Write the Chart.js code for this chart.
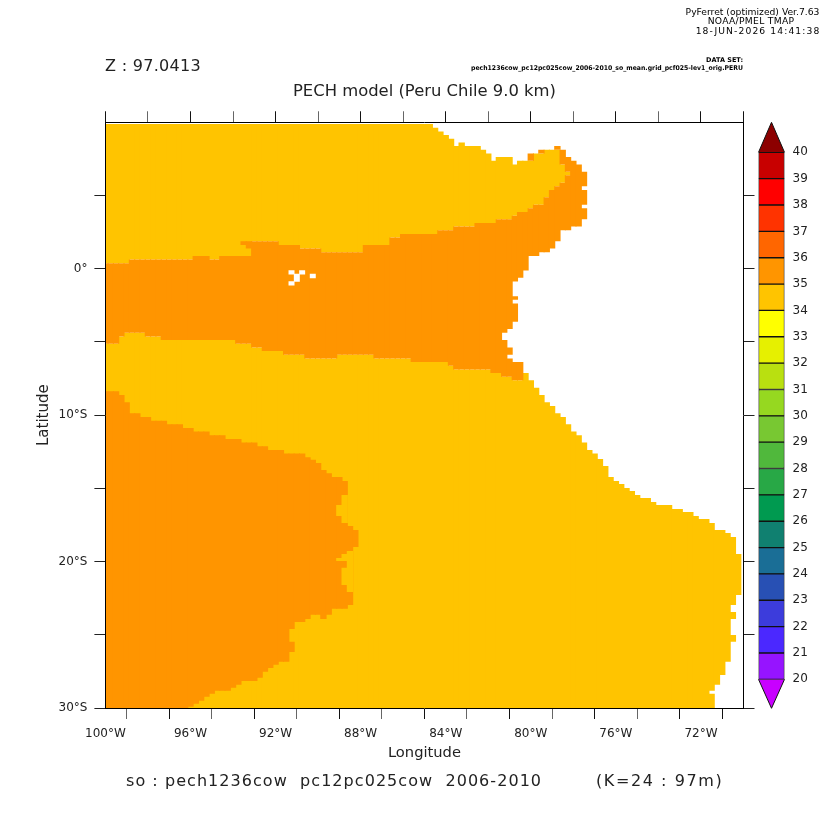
<!DOCTYPE html>
<html>
<head>
<meta charset="utf-8">
<style>
html,body{margin:0;padding:0;background:#fff;width:832px;height:832px;overflow:hidden}
canvas{position:absolute;top:0}
#map{left:0}
#bar{left:745px}
</style>
<script src="https://cdn.jsdelivr.net/npm/chart.js@4/dist/chart.umd.js"></script>
</head>
<body>
<canvas id="map" width="832" height="832"></canvas>
<canvas id="bar" width="87" height="832"></canvas>
<script>
// Grid columns: longitude of every column
const lons = [
-100,-99.75,-99.5,-99.25,-99,-98.75,-98.5,-98.25,
-98,-97.75,-97.5,-97.25,-97,-96.75,-96.5,-96.25,
-96,-95.75,-95.5,-95.25,-95,-94.75,-94.5,-94.25,
-94,-93.75,-93.5,-93.25,-93,-92.75,-92.5,-92.25,
-92,-91.75,-91.5,-91.25,-91,-90.75,-90.5,-90.25,
-90,-89.75,-89.5,-89.25,-89,-88.75,-88.5,-88.25,
-88,-87.75,-87.5,-87.25,-87,-86.75,-86.5,-86.25,
-86,-85.75,-85.5,-85.25,-85,-84.75,-84.5,-84.25,
-84,-83.75,-83.5,-83.25,-83,-82.75,-82.5,-82.25,
-82,-81.75,-81.5,-81.25,-81,-80.75,-80.5,-80.25,
-80,-79.75,-79.5,-79.25,-79,-78.75,-78.5,-78.25,
-78,-77.75,-77.5,-77.25,-77,-76.75,-76.5,-76.25,
-76,-75.75,-75.5,-75.25,-75,-74.75,-74.5,-74.25,
-74,-73.75,-73.5,-73.25,-73,-72.75,-72.5,-72.25,
-72,-71.75,-71.5,-71.25,-71,-70.75,-70.5,-70.25];

// Upper limit of the northern 35-36 region, columns 0..87
const northTop = [
9.875,9.875,9.875,9.875,9.875,9.875,9.875,9.875,9.875,9.875,
9.875,9.875,9.875,9.875,9.875,9.875,9.875,9.875,9.875,9.875,
9.875,9.875,9.875,9.875,9.875,9.875,9.875,9.875,9.875,9.875,
9.875,9.875,9.875,9.875,9.875,9.875,9.875,9.875,9.875,9.875,
9.875,9.875,9.875,9.875,9.875,9.875,9.875,9.875,9.875,9.875,
9.875,9.875,9.875,9.875,9.875,9.875,9.875,9.875,9.875,9.875,
9.875,9.875,
9.625,9.375,9.125,8.875,8.375,8.625,
8.375,8.375,8.375,8.125,7.875,7.375,
7.625,7.625,7.625,7.125,7.375,7.375,7.375,7.875,7.875,
8.125,8.125,8.125,7.125,6.625];

// Upper limit of the equatorial band, columns 0..90
const bandTop = [
.375,.375,.375,.375,.375,
.625,.625,.625,.625,.625,.625,.625,.625,.625,.625,.625,.625,
.875,.875,.875,
.625,.625,
.875,.875,.875,.875,.875,.875,
1.875,1.875,1.875,1.875,1.875,
1.625,1.625,1.625,1.625,
1.375,1.375,1.375,1.375,
1.125,1.125,1.125,1.125,1.125,1.125,1.125,1.125,
1.625,1.625,1.625,1.625,1.625,
2.125,2.125,
2.375,2.375,2.375,2.375,2.375,2.375,2.375,
2.625,2.625,2.625,
2.875,2.875,2.875,2.875,
3.125,3.125,3.125,3.125,
3.375,3.375,3.375,
3.625,
3.875,3.875,
4.125,
4.375,4.375,
4.875,5.375,5.625,5.875,6.375,7.375,7.125,6.625];

// Lower limit of the same band, columns 0..90
const bandBottom = [
-5.125,-5.125,-5.125,
-4.625,
-4.375,-4.375,-4.375,-4.375,
-4.625,-4.625,-4.625,
-4.875,-4.875,-4.875,-4.875,-4.875,-4.875,-4.875,-4.875,-4.875,-4.875,-4.875,-4.875,-4.875,-4.875,
-5.125,-5.125,-5.125,
-5.375,-5.375,
-5.625,-5.625,-5.625,-5.625,
-5.875,-5.875,-5.875,-5.875,
-6.125,-6.125,-6.125,-6.125,-6.125,-6.125,
-5.875,-5.875,-5.875,-5.875,-5.875,-5.875,-5.875,
-6.125,-6.125,-6.125,-6.125,-6.125,-6.125,-6.125,
-6.375,-6.375,-6.375,-6.375,-6.375,-6.375,-6.375,
-6.625,
-6.875,-6.875,-6.875,-6.875,-6.875,-6.875,-6.875,
-7.125,-7.125,
-4.375,-4.125,
-0.875,-0.625,
-0.125,
.875,.875,
1.125,1.125,
1.375,1.875,
2.625,2.625,
2.875,2.875,
5.625];

// Top of the southern ocean where it meets land or the band, columns 75..119
const coastTop = [
-7.375,-7.375,-7.625,-7.625,
-7.125,-7.625,-8.125,-8.625,-9.125,-9.375,-9.875,-10.125,-10.625,-11.125,
-11.375,-11.875,-12.375,-12.625,-13,-13.48,-14.23,-14.5,-14.71,-14.98,
-15.18,-15.46,-15.66,-15.66,-15.93,-16.14,-16.14,-16.14,-16.41,-16.41,
-16.62,-16.62,-16.89,-17.09,-17.09,-17.37,-17.84,-17.84,-18.05,-18.32,-19.48];

// Lower limit of the ocean in the last six columns, 114..119 (others reach 30S)
const oceanBottomEast = [-28.83,-28.42,-27.74,-26.85,-22.96,-22.28];

// South-west pool, columns 0..47
const poolTop = [
-8.375,-8.375,-8.375,-8.625,-9.125,
-9.875,-9.875,-10.125,-10.125,
-10.375,-10.375,-10.375,
-10.625,-10.625,-10.625,
-10.875,-10.875,
-11.125,-11.125,-11.125,
-11.375,-11.375,-11.375,
-11.625,-11.625,-11.625,
-11.875,-11.875,-11.875,
-12.125,-12.125,
-12.375,-12.375,-12.375,
-12.625,-12.625,-12.625,-12.625,
-12.875,-13.05,-13.27,-13.75,-13.96,
-14.23,-14.23,-14.5,-17.57,-17.84];
const poolBottom = [
-30,-30,-30,-30,-30,-30,-30,-30,-30,-30,-30,-30,-30,-30,-30,-30,
-29.92,-29.71,-29.51,-29.24,-29.03,
-28.83,-28.83,-28.83,
-28.62,-28.42,
-28.15,-28.15,-28.15,
-27.94,-27.53,-27.26,-27.05,
-26.85,-26.85,
-24.6,
-24.12,-24.12,
-23.92,
-23.64,-23.64,
-23.92,-23.64,
-23.23,-23.23,-23.23,
-22.96,-19];

// Small extra cells: [longitude, lower lat, upper lat]
const patches36 = [
[-93.5,1.625,1.875],[-93.25,1.375,1.875],[-91.25,-26.17,-25.48],
[-81.25,-7.375,-4.875],[-81,-5.875,-5.375],[-81,-7.375,-6.125],
[-80.75,-2.125,-1.875],[-80.75,-3.625,-2.375],[-80.75,-7.625,-6.375],
[-80.5,-7.625,-6.375],
[-80,7.375,7.875],[-79.5,7.875,8.125],[-78.75,8.125,8.375],
[-78.5,7.125,8.125],[-78.25,6.625,7.625],
[-77.5,4.375,5.375],[-77.5,3.375,4.125]];
const patches35 = [
[-89,-16.89,-16.14],[-89,-19.96,-19.75],
[-88.75,-17.37,-15.46],[-88.75,-19.96,-19.48],[-88.75,-21.6,-20.43],
[-88.5,-22.07,-19.28],
[-71.5,-30,-29.03],
[-70.5,-23.92,-23.44],[-70.5,-25.48,-25.01]];
// Missing cells inside the band (no data)
const missingCells = [
[-91.25,-0.375,-0.125],[-91.25,-1.125,-0.875],[-91,-0.875,-0.375],
[-90.75,-0.375,-0.125],[-90.25,-0.625,-0.375]];

// Axis ticks
const xTickValues = [-100,-96,-92,-88,-84,-80,-76,-72];
const xTickLabels = ['100°W','96°W','92°W','88°W','84°W','80°W','76°W','72°W'];
const yTickValues = [-30,-20,-10,0];
const yTickLabels = ['30°S','20°S','10°S','0°'];

// Colour bar
const barLevels = [20,21,22,23,24,25,26,27,28,29,30,31,32,33,34,35,36,37,38,39];
const barColors = ['#9614ff','#4b28ff','#3c3cdc','#2850b4','#1a6e96','#108070','#009a50','#28a846','#50b83c','#78c832',
                   '#96d820','#b9e010','#e6f000','#ffff00','#ffc400','#ff9500','#ff6600','#ff3300','#ff0000','#c80000'];
const barTickLabels = [20,21,22,23,24,25,26,27,28,29,30,31,32,33,34,35,36,37,38,39,40];
const arrowLow = [{x:0,y:20},{x:.5,y:18.9},{x:1,y:20}];
const arrowHigh = [{x:0,y:40},{x:.5,y:41.14},{x:1,y:40}];
const arrowLowColor = '#c800ff', arrowHighColor = '#8c0000';

const INK = '#222';
const FAMILY = '"DejaVu Sans"';
const C35 = '#ffc400', C36 = '#ff9500';

const notes = [
 {t:'PyFerret (optimized) Ver.7.63', x:752.5, y:13, f:'9.2px '+FAMILY, a:'center', c:'#000'},
 {t:'NOAA/PMEL TMAP', x:751, y:22, f:'9.2px '+FAMILY, a:'center', c:'#000', ls:.3},
 {t:'18-JUN-2026 14:41:38', x:758, y:32, f:'9.2px '+FAMILY, a:'center', c:'#000', ls:1.1},
 {t:'DATA SET:', x:743, y:60, f:'bold 6.5px '+FAMILY, a:'right', c:'#000'},
 {t:'pech1236cow_pc12pc025cow_2006-2010_so_mean.grid_pcf025-lev1_orig.PERU', x:743, y:68, f:'bold 6.5px '+FAMILY, a:'right', c:'#000', w:272},
 {t:'Z : 97.0413', x:105, y:66.5, f:'16px '+FAMILY, a:'left', c:INK, ls:.3},
 {t:'so : pech1236cow  pc12pc025cow  2006-2010', x:126, y:782, f:'16px '+FAMILY, a:'left', c:INK, ls:1.05},
 {t:'(K=24 : 97m)', x:596, y:782, f:'16px '+FAMILY, a:'left', c:INK, ls:1.58}
];
const notesPlugin = {
  id:'notes',
  afterDraw(chart){
    const g = chart.ctx; g.save(); g.textBaseline='middle';
    notes.forEach(n=>{
      g.font=n.f; g.fillStyle=n.c; g.textAlign=n.a; g.letterSpacing=(n.ls||0)+'px';
      n.w ? g.fillText(n.t,n.x,n.y,n.w) : g.fillText(n.t,n.x,n.y);
    });
    g.restore();
  }
};

function cells(list){ return list.map(p=>({x:p[0], y:[p[1],p[2]]})); }
function column(tops,bottoms){ return tops.map((top,k)=>({x:lons[k], y:[bottoms[k],top]})); }

const southOcean = lons.map((lon,k)=>({
  x:lon,
  y:[k>=114 ? oceanBottomEast[k-114] : -30, k<75 ? bandBottom[k] : coastTop[k-75]]
}));

const base = {type:'bar', grouped:false, barPercentage:1.2, categoryPercentage:1, borderWidth:0, xAxisID:'x', yAxisID:'y'};
const gridOf = (isMajor)=>({
  drawOnChartArea:false, drawTicks:true, tickLength:11, lineWidth:1, z:1,
  tickColor:c=> (c.tick && isMajor(c.tick.value)) ? '#111' : '#666'
});
const borderOf = {display:true, color:'#000', width:1, z:1};
const font = {family:FAMILY, size:12};
const xMajor = v=>xTickValues.includes(v) || v===-70;
const yTick = c=>(c.tick && c.tick.value===10) ? 'rgba(0,0,0,0)' : '#222';

new Chart(document.getElementById('map'), {
  data:{datasets:[
    Object.assign({label:'missing', data:cells(missingCells), backgroundColor:'#fff'}, base, {barPercentage:1}),
    Object.assign({label:'35-36 cells', data:cells(patches35), backgroundColor:C35}, base),
    Object.assign({label:'36-37 cells', data:cells(patches36), backgroundColor:C36}, base),
    Object.assign({label:'South-west pool', data:column(poolTop,poolBottom), backgroundColor:C36}, base),
    Object.assign({label:'Equatorial band', data:column(bandTop,bandBottom), backgroundColor:C36}, base),
    Object.assign({label:'North', data:northTop.map((top,k)=>({x:lons[k], y:[bandTop[k],top]})), backgroundColor:C35}, base),
    Object.assign({label:'South', data:southOcean, backgroundColor:C35}, base)
  ]},
  options:{
    responsive:false, animation:false,
    layout:{padding:0},
    plugins:{
      legend:{display:false}, tooltip:{enabled:false},
      title:{display:true, text:'PECH model (Peru Chile 9.0 km)', fullSize:false, color:INK,
             font:{family:FAMILY, size:16.4, weight:'normal'}, padding:{top:81.6,bottom:10}}
    },
    scales:{
      x:{type:'linear', position:'bottom', min:-100, max:-70, offset:false,
         ticks:{stepSize:2, autoSkip:false, maxRotation:0, padding:8, color:INK, font,
                callback:v=>{const i=xTickValues.indexOf(v); return i<0?'':xTickLabels[i];}},
         grid:gridOf(xMajor), border:borderOf,
         title:{display:true, text:'Longitude', color:INK, font:{family:FAMILY,size:14.7}, padding:{top:0,bottom:70}},
         afterFit:s=>{s.height=124;}},
      xTop:{type:'linear', position:'top', axis:'x', min:-100, max:-70,
         ticks:{stepSize:2, display:false}, grid:gridOf(xMajor), border:borderOf,
         afterFit:s=>{s.height=11;}},
      y:{type:'linear', position:'left', min:-30, max:10,
         ticks:{stepSize:5, autoSkip:false, padding:7, color:INK, font,
                callback:v=>{const i=yTickValues.indexOf(v); return i<0?'':yTickLabels[i];}},
         grid:Object.assign(gridOf(xMajor),{tickColor:yTick}), border:borderOf,
         title:{display:true, text:'Latitude', color:INK, font:{family:FAMILY,size:15}, padding:{top:35,bottom:0}},
         afterFit:s=>{s.width=105.4;}},
      yRight:{type:'linear', position:'right', axis:'y', min:-30, max:10,
         ticks:{stepSize:5, display:false},
         grid:Object.assign(gridOf(xMajor),{tickColor:yTick}), border:borderOf,
         afterFit:s=>{s.width=88.5;}}
    }
  },
  plugins:[notesPlugin]
});

new Chart(document.getElementById('bar'), {
  data:{datasets:[
    ...barLevels.map((v,i)=>({type:'bar', label:String(v), data:[{x:.5,y:[v,v+1]}], backgroundColor:barColors[i],
        grouped:false, barThickness:26, borderColor:'#111', borderWidth:1, borderSkipped:false})),
    {type:'line', label:'above', data:arrowHigh, backgroundColor:arrowHighColor, borderColor:'#111', borderWidth:1, pointRadius:0, fill:'shape', tension:0, clip:false},
    {type:'line', label:'below', data:arrowLow, backgroundColor:arrowLowColor, borderColor:'#111', borderWidth:1, pointRadius:0, fill:'shape', tension:0, clip:false}
  ]},
  options:{
    responsive:false, animation:false,
    layout:{padding:{left:13.5, top:122.3, bottom:123.7, right:0}},
    plugins:{legend:{display:false}, tooltip:{enabled:false}},
    scales:{
      x:{type:'linear', min:0, max:1, display:false, offset:false},
      y:{type:'linear', position:'right', min:18.9, max:41.14,
         afterBuildTicks:s=>{s.ticks=barTickLabels.map(v=>({value:v}));},
         ticks:{autoSkip:false, padding:8, color:INK, font, callback:v=>String(v)},
         grid:{display:false, drawTicks:false}, border:{display:false},
         afterFit:s=>{s.width=47.5;}}
    }
  }
});
</script>
</body>
</html>
